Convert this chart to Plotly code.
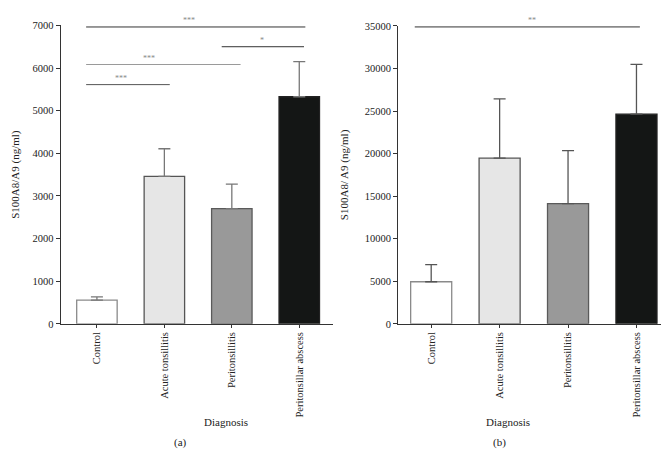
import plotly.graph_objects as go

categories = ["Control", "Acute tonsillitis", "Peritonsillitis", "Peritonsillar abscess"]
cat_pos = [0, 1, 2, 3]

# Panel (a)
means_a = [557, 3459, 2703, 5327]
sem_a = [75, 648, 572, 825]
# Panel (b)
means_b = [4950, 19470, 14120, 24640]
sem_b = [2010, 6960, 6240, 5850]

fill_colors = ["#ffffff", "#e6e6e6", "#999999", "#141615"]
edge_colors = ["#8a8a8a", "#555555", "#5a5a5a", "#222222"]

# significance brackets: (x_start, x_end, y, label, label_x, color)
brackets_a = [
    (-0.16, 3.09, 6963, "***", 1.37, "#333333"),
    (1.85, 3.07, 6500, "*", 2.44, "#333333"),
    (-0.16, 2.13, 6083, "***", 0.77, "#9a9a9a"),
    (-0.16, 1.08, 5611, "***", 0.35, "#555555"),
]
brackets_b = [
    (-0.24, 3.05, 34890, "**", 1.47, "#333333"),
]

yticks_a = [0, 1000, 2000, 3000, 4000, 5000, 6000, 7000]
yticks_b = [0, 5000, 10000, 15000, 20000, 25000, 30000, 35000]
yticklabels_a = ["0", "1000", "2000", "3000", "4000", "5000", "6000", "7000"]
yticklabels_b = ["0", "5000", "10000", "15000", "20000", "25000", "30000", "35000"]

FONT = "Liberation Serif"
fig = go.Figure()

for xa, ya, means, sem, errcol in [("x", "y", means_a, sem_a, "#777777"),
                                    ("x2", "y2", means_b, sem_b, "#555555")]:
    fig.add_trace(go.Bar(
        x=cat_pos, y=means, width=0.6,
        marker=dict(color=fill_colors, line=dict(color=edge_colors, width=1.3)),
        error_y=dict(type="data", symmetric=False, array=sem, arrayminus=[0] * 4,
                     color=errcol, thickness=1.3, width=6),
        xaxis=xa, yaxis=ya, showlegend=False, hoverinfo="skip",
    ))

annotations = []
for brs, xa, ya in [(brackets_a, "x", "y"), (brackets_b, "x2", "y2")]:
    for x0, x1, yv, lab, lx, col in brs:
        fig.add_trace(go.Scatter(
            x=[x0, x1], y=[yv, yv], mode="lines",
            line=dict(color=col, width=1),
            xaxis=xa, yaxis=ya, showlegend=False, hoverinfo="skip", cliponaxis=False,
        ))
        annotations.append(dict(
            x=lx, y=yv, xref=xa, yref=ya, text=lab, showarrow=False,
            yanchor="bottom", yshift=0,
            font=dict(family=FONT, size=8, color="#888888"),
        ))

line_common = dict(
    showline=True, linecolor="#333333", linewidth=1, showgrid=False, zeroline=False,
    ticks="outside", tickcolor="#333333",
    tickfont=dict(family=FONT, size=10.5, color="#222222"),
)
title_font = dict(family=FONT, size=11, color="#222222")

fig.update_layout(
    width=669, height=470,
    margin=dict(l=0, r=0, t=0, b=0),
    paper_bgcolor="white", plot_bgcolor="white",
    annotations=annotations + [
        dict(x=194 / 669, y=1 - 427 / 470, xref="paper", yref="paper", text="Diagnosis",
             showarrow=False, font=title_font),
        dict(x=164 / 669, y=1 - 449 / 470, xref="paper", yref="paper", text="(a)",
             showarrow=False, font=title_font),
        dict(x=524 / 669, y=1 - 427 / 470, xref="paper", yref="paper", text="Diagnosis",
             showarrow=False, font=title_font),
        dict(x=500 / 669, y=1 - 449 / 470, xref="paper", yref="paper", text="(b)",
             showarrow=False, font=title_font),
    ],
    xaxis=dict(domain=[52.5 / 669, 325 / 669], range=[-0.54, 3.5], anchor="y",
               tickvals=cat_pos, ticktext=categories, tickangle=-90, ticklen=3,
               **line_common),
    yaxis=dict(domain=[1 - 318.3 / 470, 1 - 12.7 / 470], range=[0, 7000], anchor="x",
               tickvals=yticks_a, ticktext=yticklabels_a, ticklen=4,
               title=dict(text="S100A8/A9 (ng/ml)", standoff=10, font=title_font),
               **line_common),
    xaxis2=dict(domain=[390 / 669, 662 / 669], range=[-0.485, 3.49], anchor="y2",
                tickvals=cat_pos, ticktext=categories, tickangle=-90, ticklen=3,
                **line_common),
    yaxis2=dict(domain=[1 - 318.3 / 470, 1 - 13.3 / 470], range=[0, 35000], anchor="x2",
                tickvals=yticks_b, ticktext=yticklabels_b, ticklen=4,
                title=dict(text="S100A8/ A9 (ng/ml)", standoff=13, font=title_font),
                **line_common),
)

fig.write_html("out.html")
